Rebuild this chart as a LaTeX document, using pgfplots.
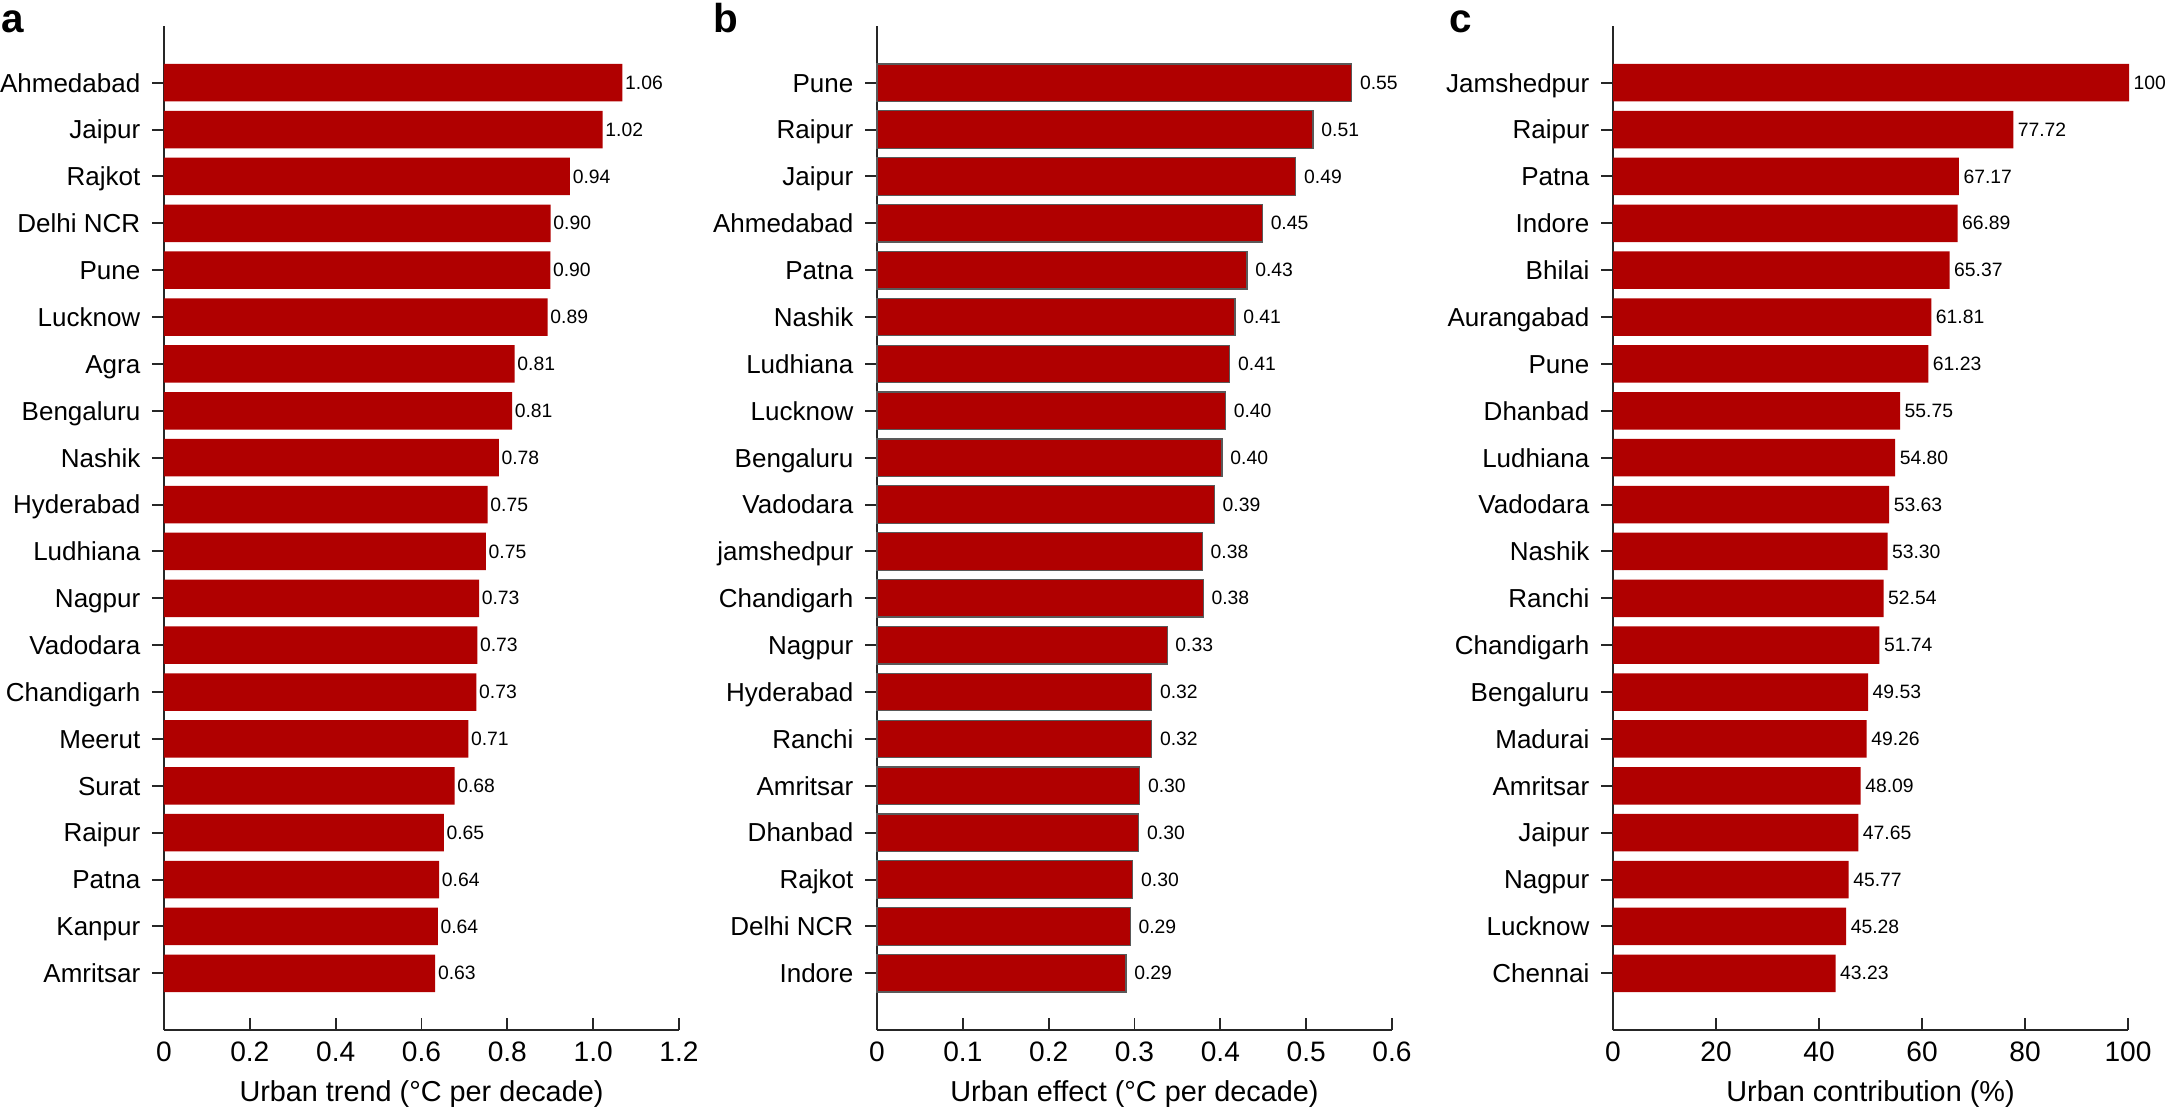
\documentclass[border=0pt]{standalone}
\usepackage{fontspec}
\setmainfont{Liberation Sans}
\usepackage{pgfplots}
\usepackage{pgfplotstable}
\pgfplotsset{compat=1.18}
\definecolor{barred}{HTML}{B00000}

% rows run from the bottom bar to the top bar
\pgfplotstableread[col sep=comma]{
city,val,lab
Amritsar,0.632,0.63
Kanpur,0.638,0.64
Patna,0.641,0.64
Raipur,0.652,0.65
Surat,0.677,0.68
Meerut,0.709,0.71
Chandigarh,0.728,0.73
Vadodara,0.730,0.73
Nagpur,0.734,0.73
Ludhiana,0.750,0.75
Hyderabad,0.754,0.75
Nashik,0.780,0.78
Bengaluru,0.811,0.81
Agra,0.817,0.81
Lucknow,0.894,0.89
Pune,0.900,0.90
Delhi NCR,0.901,0.90
Rajkot,0.946,0.94
Jaipur,1.022,1.02
Ahmedabad,1.068,1.06
}\tabA

\pgfplotstableread[col sep=comma]{
city,val,lab
Indore,0.290,0.29
Delhi NCR,0.295,0.29
Rajkot,0.298,0.30
Dhanbad,0.305,0.30
Amritsar,0.306,0.30
Ranchi,0.320,0.32
Hyderabad,0.320,0.32
Nagpur,0.338,0.33
Chandigarh,0.380,0.38
jamshedpur,0.379,0.38
Vadodara,0.393,0.39
Bengaluru,0.402,0.40
Lucknow,0.406,0.40
Ludhiana,0.411,0.41
Nashik,0.417,0.41
Patna,0.431,0.43
Ahmedabad,0.449,0.45
Jaipur,0.488,0.49
Raipur,0.508,0.51
Pune,0.553,0.55
}\tabB

\pgfplotstableread[col sep=comma]{
city,val,lab
Chennai,43.23,43.23
Lucknow,45.28,45.28
Nagpur,45.77,45.77
Jaipur,47.65,47.65
Amritsar,48.09,48.09
Madurai,49.26,49.26
Bengaluru,49.53,49.53
Chandigarh,51.74,51.74
Ranchi,52.54,52.54
Nashik,53.30,53.30
Vadodara,53.63,53.63
Ludhiana,54.80,54.80
Dhanbad,55.75,55.75
Pune,61.23,61.23
Aurangabad,61.81,61.81
Bhilai,65.37,65.37
Indore,66.89,66.89
Patna,67.17,67.17
Raipur,77.72,77.72
Jamshedpur,100.2,100
}\tabC

\pgfplotsset{
  cityplot/.style={
    scale only axis, width=5.15cm, height=10.04cm,
    anchor=south west,
    axis lines=left,
    axis line style={-, black!85, line width=0.55pt},
    every tick/.style={black!85, line width=0.55pt},
    tick align=inside, major tick length=0.12cm,
    ymin=-1.21, ymax=20.21, ytick={0,...,19},
    xmin=0,
    xbar, bar width=0.8,
    font=\fontsize{8}{9.6}\selectfont,
    yticklabel style={font=\fontsize{7.4}{9}\selectfont, anchor=base east, inner sep=0pt, xshift=-0.11cm, yshift=-2.65pt},
    xticklabel style={anchor=base, inner sep=0pt, yshift=-0.31cm},
    xlabel style={font=\fontsize{8.2}{9.6}\selectfont, at={(axis description cs:0.5,0)}, anchor=base, inner sep=0pt, yshift=-0.71cm},
    point meta=explicit symbolic,
    nodes near coords,
    every node near coord/.append style={font=\fontsize{5.5}{6}\selectfont, inner sep=0pt, anchor=west, black},
    clip=false,
  }
}

\begin{document}
\begin{tikzpicture}
\useasboundingbox (0,0) rectangle (21.68cm,11.08cm);

\node[anchor=base west, inner sep=0pt, font=\fontsize{11.5}{13}\selectfont\bfseries] at (0.01cm,10.75cm) {a};
\node[anchor=base west, inner sep=0pt, font=\fontsize{11.5}{13}\selectfont\bfseries] at (7.13cm,10.75cm) {b};
\node[anchor=base west, inner sep=0pt, font=\fontsize{11.5}{13}\selectfont\bfseries] at (14.49cm,10.75cm) {c};

% panel a
\begin{axis}[cityplot, at={(1.64cm,0.78cm)},
    xmax=1.2, xtick={0,0.2,0.4,0.6,0.8,1.0,1.2},
    xticklabels={0,0.2,0.4,0.6,0.8,1.0,1.2},
    yticklabels from table={\tabA}{city},
    xlabel={Urban trend (°C per decade)},
    every node near coord/.append style={xshift=0.6pt}]
  \addplot[fill=barred, draw=none] table[x=val, y expr=\coordindex, meta=lab] {\tabA};
\end{axis}

% panel b
\begin{axis}[cityplot, at={(8.77cm,0.78cm)},
    xmax=0.6, xtick={0,0.1,0.2,0.3,0.4,0.5,0.6},
    xticklabels={0,0.1,0.2,0.3,0.4,0.5,0.6},
    yticklabels from table={\tabB}{city},
    xlabel={Urban effect (°C per decade)},
    every node near coord/.append style={xshift=2.2pt}]
  \addplot[fill=barred, draw=black!65, line width=0.35pt] table[x=val, y expr=\coordindex, meta=lab] {\tabB};
\end{axis}

% panel c
\begin{axis}[cityplot, at={(16.13cm,0.78cm)},
    xmax=100, xtick={0,20,40,60,80,100},
    xticklabels={0,20,40,60,80,100},
    yticklabels from table={\tabC}{city},
    xlabel={Urban contribution (\%)},
    every node near coord/.append style={xshift=1.1pt}]
  \addplot[fill=barred, draw=none] table[x=val, y expr=\coordindex, meta=lab] {\tabC};
\end{axis}
\end{tikzpicture}
\end{document}
